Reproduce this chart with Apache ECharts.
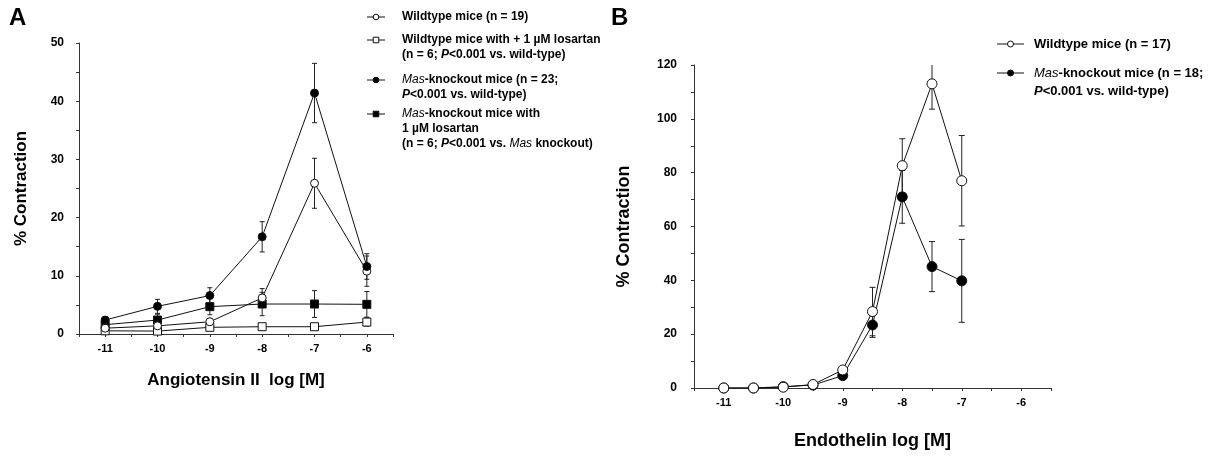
<!DOCTYPE html>
<html>
<head>
<meta charset="utf-8">
<script src="https://cdn.jsdelivr.net/npm/echarts@6/dist/echarts.min.js"></script>
<style>
  html, body { margin: 0; padding: 0; background: #fff; }
  #chart { width: 1220px; height: 457px; }
</style>
</head>
<body>
<div id="chart"></div>
<script>
// ---- data ----
// panel A: angiotensin II
var doseA = [-11, -10, -9, -8, -7, -6];
var wtA = [1.0, 1.4, 2.1, 6.2, 25.9, 10.8];
var wtAErr = [0.4, 0.5, 0.6, 1.6, 4.3, 2.6];
var wtLosA = [0.55, 0.5, 1.15, 1.25, 1.25, 2.05];
var wtLosAErr = [0.3, 0.3, 0.4, 0.5, 0.4, 0.7];
var koA = [2.4, 4.75, 6.6, 16.7, 41.4, 11.6];
var koAErr = [0.6, 1.2, 1.35, 2.6, 5.1, 2.2];
var koLosA = [1.6, 2.4, 4.7, 5.15, 5.15, 5.1];
var koLosAErr = [0.5, 1.0, 1.4, 2.0, 2.3, 2.2];

// panel B: endothelin
var doseB = [-11, -10.5, -10, -9.5, -9, -8.5, -8, -7.5, -7];
var wtB = [0, 0, 0.3, 1.3, 6.7, 28.4, 82.6, 113, 77];
var wtBErr = [0, 0, 0, 0, 0.8, 9, 10, 9.4, 16.8];
var koB = [0, 0, 0.5, 1.1, 4.6, 23.4, 71, 45.1, 39.8];
var koBErr = [0, 0, 0, 0, 0.5, 4.6, 9.8, 9.3, 15.4];

var legendA = [
  ['Wildtype mice (n = 19)'],
  ['Wildtype mice with + 1 \u00b5M losartan', '(n = 6; {bi|P}<0.001 vs. wild-type)'],
  ['{i|Mas}-knockout mice (n = 23;', '{bi|P}<0.001 vs. wild-type)'],
  ['{i|Mas}-knockout mice with', '1 \u00b5M losartan', '(n = 6; {bi|P}<0.001 vs. {i|Mas} knockout)']
];
var legendB = [
  ['Wildtype mice (n = 17)'],
  ['{i|Mas}-knockout mice (n = 18;', '{bi|P}<0.001 vs. wild-type)']
];

// ---- helpers ----
var FONT = '"Liberation Sans", Arial, sans-serif';
var INK = '#111';

function pairs(xs, ys) {
  return xs.map(function (x, i) { return [x, ys[i]]; });
}

function lineSeries(idx, xs, ys, symbol, size, filled) {
  return {
    type: 'line',
    xAxisIndex: idx,
    yAxisIndex: idx,
    data: pairs(xs, ys),
    symbol: symbol,
    symbolSize: size,
    showAllSymbol: true,
    lineStyle: { color: INK, width: 1 },
    itemStyle: { color: filled ? '#000' : '#fff', borderColor: INK, borderWidth: 1, opacity: 1 },
    z: 3,
    silent: true
  };
}

function errSeries(idx, xs, ys, es, cap) {
  return {
    type: 'custom',
    xAxisIndex: idx,
    yAxisIndex: idx,
    clip: true,
    z: 1,
    silent: true,
    data: xs.map(function (x, i) { return [x, ys[i] - es[i], ys[i] + es[i]]; }),
    renderItem: function (params, api) {
      if (api.value(2) - api.value(1) <= 0) return null;
      var lo = api.coord([api.value(0), api.value(1)]);
      var hi = api.coord([api.value(0), api.value(2)]);
      var st = { stroke: '#222', lineWidth: 1 };
      return {
        type: 'group',
        children: [
          { type: 'line', shape: { x1: lo[0], y1: lo[1], x2: hi[0], y2: hi[1] }, style: st },
          { type: 'line', shape: { x1: lo[0] - cap, y1: lo[1], x2: lo[0] + cap, y2: lo[1] }, style: st },
          { type: 'line', shape: { x1: hi[0] - cap, y1: hi[1], x2: hi[0] + cap, y2: hi[1] }, style: st }
        ]
      };
    }
  };
}

function xAxisCfg(idx, min, max, name, nameGap, nameSize) {
  return {
    gridIndex: idx,
    type: 'value',
    min: min,
    max: max,
    interval: 0.5,
    name: name,
    nameLocation: 'middle',
    nameGap: nameGap,
    nameTextStyle: { fontFamily: FONT, fontWeight: 'bold', fontSize: nameSize, color: '#000' },
    axisLine: { show: true, onZero: false, lineStyle: { color: '#333', width: 1 } },
    axisTick: { show: true, length: 3, lineStyle: { color: '#333' } },
    splitLine: { show: false },
    axisLabel: {
      margin: 9,
      fontFamily: FONT, fontWeight: 'bold', fontSize: 11, color: '#000',
      formatter: function (v) { return Number.isInteger(v) ? String(v) : ''; }
    }
  };
}

function yAxisCfg(idx, max, step, labelStep, nameGap, nameSize, margin) {
  return {
    gridIndex: idx,
    type: 'value',
    min: 0,
    max: max,
    interval: step,
    name: '% Contraction',
    nameLocation: 'middle',
    nameGap: nameGap,
    nameTextStyle: { fontFamily: FONT, fontWeight: 'bold', fontSize: nameSize, color: '#000' },
    axisLine: { show: true, lineStyle: { color: '#333', width: 1 } },
    axisTick: { show: true, length: 3, lineStyle: { color: '#333' } },
    splitLine: { show: false },
    axisLabel: {
      margin: margin,
      fontFamily: FONT, fontWeight: 'bold', fontSize: 12, color: '#000',
      formatter: function (v) { return v % labelStep === 0 ? String(v) : ''; }
    }
  };
}

// legend drawn as graphic so the italics and line breaks match the figure
function legendGraphic(items, rowsY, lineX, textX, fontSize, lineH, marks) {
  var out = [];
  var rich = {
    i: { fontFamily: FONT, fontStyle: 'italic', fontWeight: 'normal', fontSize: fontSize, lineHeight: lineH, fill: '#000' },
    bi: { fontFamily: FONT, fontStyle: 'italic', fontWeight: 'bold', fontSize: fontSize, lineHeight: lineH, fill: '#000' }
  };
  items.forEach(function (lines, k) {
    var y = rowsY[k];
    var m = marks[k];
    out.push({ type: 'line', shape: { x1: lineX[0], y1: y, x2: lineX[1], y2: y }, style: { stroke: INK, lineWidth: 1 }, z: 10 });
    var cx = (lineX[0] + lineX[1]) / 2;
    if (m.sym === 'circle') {
      out.push({ type: 'circle', shape: { cx: cx, cy: y, r: m.r }, style: { fill: m.filled ? '#000' : '#fff', stroke: INK, lineWidth: 1 }, z: 11 });
    } else {
      out.push({ type: 'rect', shape: { x: cx - m.r, y: y - m.r, width: m.r * 2, height: m.r * 2 }, style: { fill: m.filled ? '#000' : '#fff', stroke: INK, lineWidth: 1 }, z: 11 });
    }
    out.push({
      type: 'text', x: textX, y: y - lineH / 2, z: 10,
      style: {
        text: lines.join('\n'),
        fontFamily: FONT, fontWeight: 'bold', fontSize: fontSize, lineHeight: lineH,
        fill: '#000', verticalAlign: 'top', rich: rich
      }
    });
  });
  return out;
}

var marksA = [
  { sym: 'circle', r: 2.8, filled: false },
  { sym: 'rect', r: 2.8, filled: false },
  { sym: 'circle', r: 2.8, filled: true },
  { sym: 'rect', r: 2.8, filled: true }
];
var marksB = [
  { sym: 'circle', r: 3, filled: false },
  { sym: 'circle', r: 3, filled: true }
];

var chart = echarts.init(document.getElementById('chart'), null, { renderer: 'canvas' });

chart.setOption({
  animation: false,
  backgroundColor: '#fff',
  grid: [
    { left: 79, top: 43, width: 314, height: 291 },
    { left: 694, top: 65, width: 357, height: 323 }
  ],
  xAxis: [
    xAxisCfg(0, -11.5, -5.5, 'Angiotensin II  log [M]', 38, 17),
    xAxisCfg(1, -11.5, -5.5, 'Endothelin log [M]', 44, 18)
  ],
  yAxis: [
    yAxisCfg(0, 50, 5, 10, 49, 17, 15),
    yAxisCfg(1, 120, 10, 20, 61, 18, 17)
  ],
  graphic: [
    { type: 'text', x: 9, y: 6, style: { text: 'A', fontFamily: FONT, fontWeight: 'bold', fontSize: 24, fill: '#000' } },
    { type: 'text', x: 611, y: 6, style: { text: 'B', fontFamily: FONT, fontWeight: 'bold', fontSize: 24, fill: '#000' } }
  ].concat(
    legendGraphic(legendA, [17, 40, 80, 114], [367, 385], 402, 12, 15, marksA),
    legendGraphic(legendB, [44, 73], [997, 1024], 1034, 13, 18, marksB)
  ),
  series: [
    errSeries(0, doseA, wtA, wtAErr, 2.5),
    errSeries(0, doseA, wtLosA, wtLosAErr, 2.5),
    errSeries(0, doseA, koA, koAErr, 2.5),
    errSeries(0, doseA, koLosA, koLosAErr, 2.5),
    lineSeries(0, doseA, wtLosA, 'rect', 8, false),
    lineSeries(0, doseA, koLosA, 'rect', 8, true),
    lineSeries(0, doseA, wtA, 'circle', 8, false),
    lineSeries(0, doseA, koA, 'circle', 8, true),
    errSeries(1, doseB, wtB, wtBErr, 3),
    errSeries(1, doseB, koB, koBErr, 3),
    lineSeries(1, doseB, koB, 'circle', 10, true),
    lineSeries(1, doseB, wtB, 'circle', 10, false)
  ]
});
</script>
</body>
</html>
